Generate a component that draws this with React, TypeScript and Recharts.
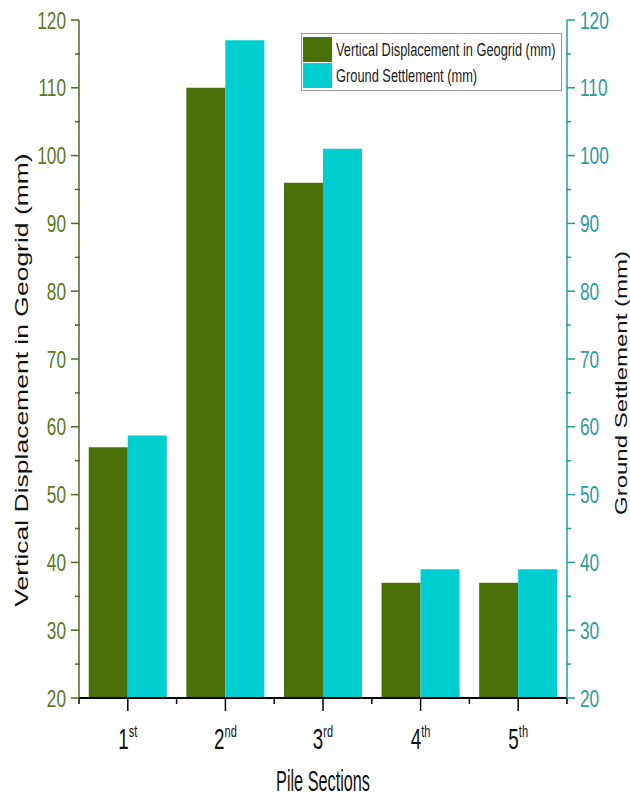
import React from 'react';
import { ComposedChart, Bar, XAxis, YAxis, Legend } from 'recharts';

const categories = ['1st', '2nd', '3rd', '4th', '5th'];
const geogridDisp = [57, 110, 96, 37, 37];
const groundSettlement = [58.7, 117, 101, 39, 39];
const yTicks = [20, 25, 30, 35, 40, 45, 50, 55, 60, 65, 70, 75, 80, 85, 90, 95, 100, 105, 110, 115, 120];
const yMajorStep = 10;

const seriesNames = ['Vertical Displacement in Geogrid (mm)', 'Ground Settlement (mm)'];

const data = categories.map((c, i) => ({
  name: c,
  geogrid: geogridDisp[i],
  settlement: groundSettlement[i],
}));

const W = 630;
const H = 798;
const LEFT_W = 79;
const RIGHT_W = 63;
const TOP = 20;
const XAXIS_H = 100;
const BAND = (W - LEFT_W - RIGHT_W) / categories.length;

const GREEN = '#4a7009';
const CYAN = '#00ced1';
const LEFT_AXIS = '#4e6b1c';
const LEFT_TEXT = '#5b7a22';
const RIGHT_AXIS = '#1f9e9e';
const RIGHT_TEXT = '#2a9d9d';
const FONT = '"Liberation Sans", Arial, sans-serif';

const LeftTick = (props: any) => {
  const { x, y, payload } = props;
  const v = payload.value;
  const major = v % yMajorStep === 0;
  if (!major) {
    return <line x1={x - 4} x2={x + 1} y1={y} y2={y} stroke={LEFT_AXIS} strokeWidth={1.5} />;
  }
  return (
    <g>
      <line x1={x - 8} x2={x} y1={y} y2={y} stroke={LEFT_AXIS} strokeWidth={1.5} />
      <text
        transform={`translate(${x - 13},${y}) scale(0.72,1)`}
        textAnchor="end"
        dominantBaseline="central"
        fontSize={24}
        fontFamily={FONT}
        fill={LEFT_TEXT}
      >
        {v}
      </text>
    </g>
  );
};

const RightTick = (props: any) => {
  const { x, y, payload } = props;
  const v = payload.value;
  const major = v % yMajorStep === 0;
  if (!major) {
    return <line x1={x - 1} x2={x + 4} y1={y} y2={y} stroke={RIGHT_AXIS} strokeWidth={1.5} />;
  }
  return (
    <g>
      <line x1={x} x2={x + 8} y1={y} y2={y} stroke={RIGHT_AXIS} strokeWidth={1.5} />
      <text
        transform={`translate(${x + 13},${y}) scale(0.72,1)`}
        textAnchor="start"
        dominantBaseline="central"
        fontSize={24}
        fontFamily={FONT}
        fill={RIGHT_TEXT}
      >
        {v}
      </text>
    </g>
  );
};

const BottomTick = (props: any) => {
  const { x, y, payload, index } = props;
  const label: string = String(payload.value);
  const num = label.slice(0, 1);
  const sup = label.slice(1);
  const half = BAND / 2;
  return (
    <g>
      <line x1={x} x2={x} y1={y} y2={y + 13} stroke="#000" strokeWidth={1.5} />
      <line x1={x - half} x2={x - half} y1={y} y2={y + 6} stroke="#000" strokeWidth={1.5} />
      {index === categories.length - 1 && (
        <line x1={x + half} x2={x + half} y1={y} y2={y + 6} stroke="#000" strokeWidth={1.5} />
      )}
      <text
        transform={`translate(${x},${y + 51}) scale(0.65,1)`}
        textAnchor="middle"
        fontFamily={FONT}
        fill="#111"
      >
        <tspan fontSize={29}>{num}</tspan>
        <tspan fontSize={17} dy={-12}>{sup}</tspan>
      </text>
    </g>
  );
};

const renderLegend = (props: any) => {
  const payload = [...(props.payload || [])].sort(
    (a: any, b: any) => seriesNames.indexOf(a.value) - seriesNames.indexOf(b.value)
  );
  return (
    <svg width={262} height={60} style={{ display: 'block' }}>
      <rect x={0.5} y={0.5} width={260} height={57} fill="#fff" stroke="#9a9a9a" strokeWidth={1} />
      {payload.map((p: any, i: number) => (
        <g key={i}>
          <rect x={2} y={4 + i * 26} width={29} height={25} fill={p.color} />
          <text
            transform={`translate(35,${23 + i * 26}) scale(0.69,1)`}
            fontSize={18.6}
            fontFamily={FONT}
            fill="#1a1a1a"
          >
            {p.value}
          </text>
        </g>
      ))}
    </svg>
  );
};

export default function App() {
  return (
    <div style={{ position: 'fixed', left: 0, top: 0, width: W, height: H, background: '#fff' }}>
      <ComposedChart
        width={W}
        height={H}
        data={data}
        margin={{ top: TOP, right: 0, bottom: 0, left: 0 }}
        barCategoryGap="10%"
        barGap={0}
      >
        <XAxis
          dataKey="name"
          height={XAXIS_H}
          interval={0}
          tickSize={0}
          tickMargin={0}
          tickLine={false}
          axisLine={{ stroke: '#000', strokeWidth: 2 }}
          tick={<BottomTick />}
          label={{
            value: 'Pile Sections',
            position: 'insideBottom',
            content: (lp: any) => {
              const vb = lp.viewBox || {};
              const cx = vb.x + vb.width / 2;
              return (
                <text
                  transform={`translate(${cx},791) scale(0.56,1)`}
                  textAnchor="middle"
                  fontSize={29}
                  fontFamily={FONT}
                  fill="#111"
                >
                  Pile Sections
                </text>
              );
            },
          }}
        />
        <XAxis
          xAxisId="top"
          dataKey="name"
          orientation="top"
          height={0}
          tick={false}
          tickLine={false}
          axisLine={{ stroke: '#000', strokeWidth: 2 }}
        />
        <YAxis
          yAxisId="left"
          orientation="left"
          width={LEFT_W}
          domain={[20, 120]}
          ticks={yTicks}
          interval={0}
          allowDataOverflow
          tickSize={0}
          tickMargin={0}
          tickLine={false}
          axisLine={{ stroke: LEFT_AXIS, strokeWidth: 1.5 }}
          tick={<LeftTick />}
          label={{
            value: seriesNames[0],
            content: () => (
              <text
                transform={`translate(22,380) scale(0.7,1) rotate(-90)`}
                textAnchor="middle"
                dominantBaseline="central"
                fontSize={26.5}
                fontFamily={FONT}
                fill="#111"
              >
                {seriesNames[0]}
              </text>
            ),
          }}
        />
        <YAxis
          yAxisId="right"
          orientation="right"
          width={RIGHT_W}
          domain={[20, 120]}
          ticks={yTicks}
          interval={0}
          allowDataOverflow
          tickSize={0}
          tickMargin={0}
          tickLine={false}
          axisLine={{ stroke: RIGHT_AXIS, strokeWidth: 1.5 }}
          tick={<RightTick />}
          label={{
            value: seriesNames[1],
            content: () => (
              <text
                transform={`translate(621,383) scale(0.7,1) rotate(-90)`}
                textAnchor="middle"
                dominantBaseline="central"
                fontSize={24}
                fontFamily={FONT}
                fill="#111"
              >
                {seriesNames[1]}
              </text>
            ),
          }}
        />
        <Legend
          layout="horizontal"
          verticalAlign="middle"
          align="center"
          content={renderLegend}
          wrapperStyle={{ position: 'absolute', left: 301, top: 33, width: 262, height: 60 }}
        />
        <Bar
          yAxisId="left"
          dataKey="geogrid"
          name={seriesNames[0]}
          fill={GREEN}
          isAnimationActive={false}
        />
        <Bar
          yAxisId="right"
          dataKey="settlement"
          name={seriesNames[1]}
          fill={CYAN}
          isAnimationActive={false}
        />
      </ComposedChart>
    </div>
  );
}
